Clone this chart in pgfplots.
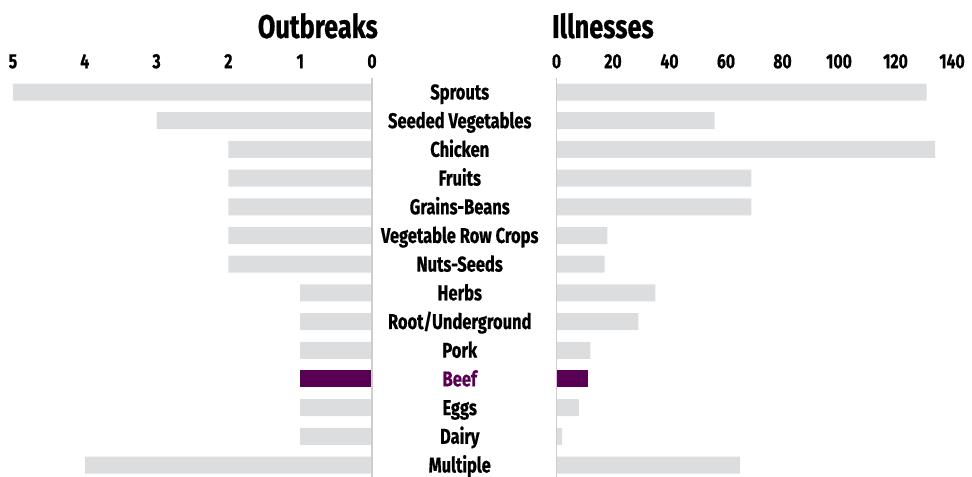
\documentclass[border=0pt]{standalone}
\usepackage{pgfplots}
\pgfplotsset{compat=1.18}
\usepackage{fontspec}
\setmainfont{Fira Sans}[FakeStretch=0.77, BoldFeatures={FakeBold=0.6}]
\definecolor{barg}{RGB}{220,221,223}
\definecolor{beefc}{RGB}{90,0,84}
\definecolor{axg}{RGB}{205,205,205}
\begin{document}
\begin{tikzpicture}
\useasboundingbox (0,0) rectangle (972bp,477bp);
\pgfplotsset{
 panel/.style={
  scale only axis, height=401.7bp, ymin=-0.5, ymax=13.5, y dir=reverse,
  axis line style={draw=none}, tick style={draw=none},
  xbar, bar width=17bp, bar shift=0pt,
  xticklabel pos=upper,
  xticklabel style={font=\fontsize{20.5}{22}\selectfont\bfseries, anchor=base, yshift=9.5bp},
  /pgf/number format/assume math mode=true,
  clip=false,
 }
}
\begin{axis}[panel, at={(372bp,399.3bp)}, anchor=north east, width=359bp,
  xmin=0, xmax=5, x dir=reverse, xtick={0,1,2,3,4,5}, ytick=\empty]
\addplot[fill=barg, draw=none] coordinates {(5,0) (3,1) (2,2) (2,3) (2,4) (2,5) (2,6) (1,7) (1,8) (1,9) (1,11) (1,12) (4,13)};
\addplot[fill=beefc, draw=none] coordinates {(1,10)};
\draw[axg, line width=1.3bp] (axis cs:0,-0.5) -- (axis cs:0,13.5);
\end{axis}
\begin{axis}[panel, at={(556.5bp,399.3bp)}, anchor=north west, width=395.5bp,
  xmin=0, xmax=140, xtick={0,20,...,140},
  ytick={0,...,13},
  yticklabels={Sprouts,Seeded Vegetables,Chicken,Fruits,Grains-Beans,Vegetable Row Crops,Nuts-Seeds,Herbs,Root/Underground,Pork,{\color{beefc}Beef},Eggs,Dairy,Multiple},
  yticklabel style={font=\fontsize{21.5}{22}\selectfont\bfseries, anchor=base, xshift=-92.5bp, yshift=-7.4bp}]
\addplot[fill=barg, draw=none] coordinates {(131,0) (56,1) (134,2) (69,3) (69,4) (18,5) (17,6) (35,7) (29,8) (12,9) (8,11) (2,12) (65,13)};
\addplot[fill=beefc, draw=none] coordinates {(11,10)};
\draw[axg, line width=1.3bp] (axis cs:0,-0.5) -- (axis cs:0,13.5);
\end{axis}
\node[anchor=base east, inner sep=0pt, font=\fontsize{33}{36}\selectfont\bfseries] at (378bp,439bp) {Outbreaks};
\node[anchor=base west, inner sep=0pt, font=\fontsize{33}{36}\selectfont\bfseries] at (552bp,439bp) {Illnesses};
\end{tikzpicture}
\end{document}
